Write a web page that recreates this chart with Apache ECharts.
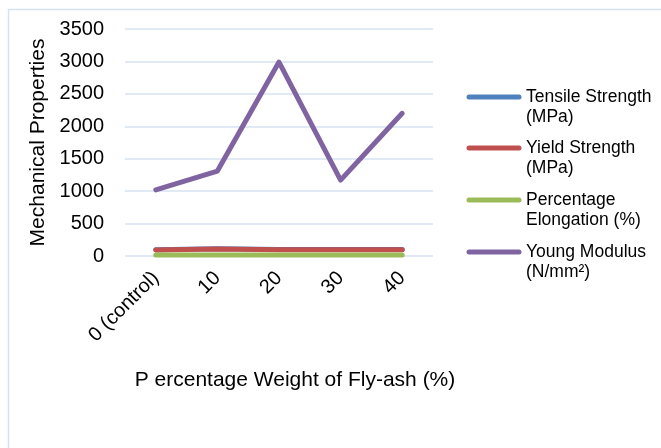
<!DOCTYPE html>
<html>
<head>
<meta charset="utf-8">
<script src="https://cdn.jsdelivr.net/npm/echarts@6/dist/echarts.min.js"></script>
<style>
html,body{margin:0;padding:0;background:#fff;}
#c{width:661px;height:448px;}
</style>
</head>
<body>
<div id="c"></div>
<script>
var categories = ['0 (control)', '10', '20', '30', '40'];
var tensileStrength = [95, 110, 100, 100, 100];
var yieldStrength = [92, 108, 98, 98, 98];
var percentageElongation = [15, 15, 14, 14, 14];
var youngModulus = [1020, 1310, 2990, 1170, 2200];
var yTicks = [0, 500, 1000, 1500, 2000, 2500, 3000, 3500];

var seriesNames = ['Tensile Strength\n(MPa)', 'Yield Strength\n(MPa)', 'Percentage\nElongation (%)', 'Young Modulus\n(N/mm²)'];
var seriesColors = ['#4f81bd', '#c0504d', '#9bbb59', '#8064a2'];
var seriesData = [tensileStrength, yieldStrength, percentageElongation, youngModulus];

var FONT = '"Liberation Sans", Arial, sans-serif';
var chart = echarts.init(document.getElementById('c'), null, {renderer: 'canvas'});

var legendGraphics = [];
var legendY = [97, 148, 200, 252];
for (var i = 0; i < seriesNames.length; i++) {
  legendGraphics.push({
    type: 'line',
    shape: {x1: 469, y1: legendY[i], x2: 519, y2: legendY[i]},
    style: {stroke: seriesColors[i], lineWidth: 5, lineCap: 'round'}
  });
  legendGraphics.push({
    type: 'text',
    left: 526,
    top: legendY[i] - 10,
    style: {text: seriesNames[i], fill: '#000', font: '17.5px ' + FONT, lineHeight: 20}
  });
}

var option = {
  backgroundColor: '#fff',
  animation: false,
  grid: {left: 125, top: 29, width: 308, height: 227, containLabel: false},
  xAxis: {
    type: 'category',
    data: categories,
    boundaryGap: true,
    axisLine: {show: false},
    axisTick: {show: false},
    axisLabel: {rotate: 45, margin: 19, color: '#000', fontSize: 20, fontFamily: FONT, interval: 0},
    name: 'P ercentage Weight of Fly-ash (%)',
    nameLocation: 'middle',
    nameGap: 114,
    nameTextStyle: {color: '#000', fontSize: 21, fontFamily: FONT, padding: [0, 0, 0, 32], verticalAlign: 'top'}
  },
  yAxis: {
    type: 'value',
    min: 0,
    max: 3500,
    interval: 500,
    axisLine: {show: false},
    axisTick: {show: false},
    splitLine: {lineStyle: {color: '#d6e2f1', width: 1.5}},
    axisLabel: {color: '#000', fontSize: 20, fontFamily: FONT, margin: 21,
      formatter: function (v) { return yTicks.indexOf(v) >= 0 ? String(v) : ''; }},
    name: 'Mechanical Properties',
    nameLocation: 'middle',
    nameGap: 76,
    nameRotate: 90,
    nameTextStyle: {color: '#000', fontSize: 21, fontFamily: FONT}
  },
  series: seriesData.map(function (d, i) {
    return {
      name: seriesNames[i],
      type: 'line',
      data: d,
      symbol: 'none',
      lineStyle: {color: seriesColors[i], width: 5, cap: 'round', join: 'round'},
      itemStyle: {color: seriesColors[i]}
    };
  }),
  graphic: [{
    type: 'rect',
    shape: {x: 8.5, y: 9.5, width: 800, height: 600},
    style: {fill: null, stroke: '#d6e2f1', lineWidth: 1.5},
    silent: true
  }].concat(legendGraphics)
};
chart.setOption(option);
</script>
</body>
</html>
